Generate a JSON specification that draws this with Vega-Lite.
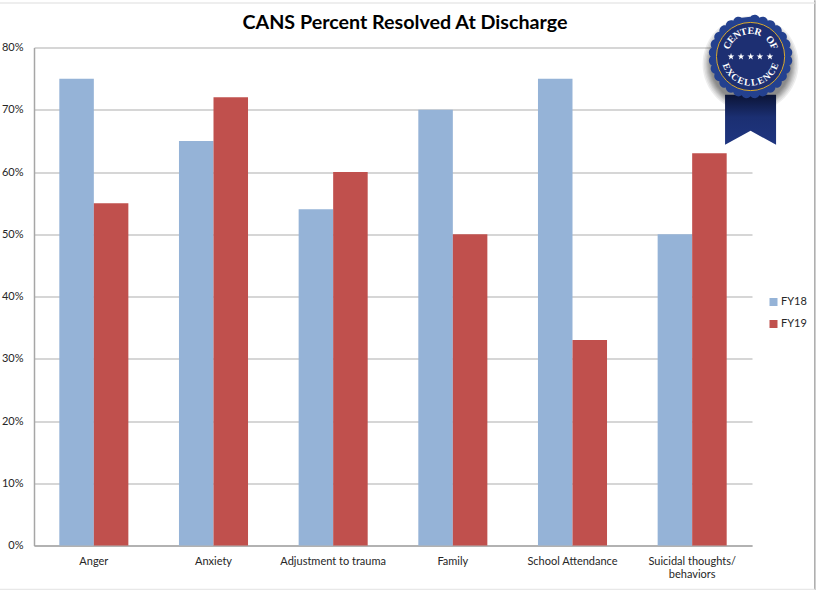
{
"$schema":"https://vega.github.io/schema/vega-lite/v6.json",
"autosize":"none",
"width":718,"height":498,
"padding":{"left":34,"top":47.5,"right":64,"bottom":44.5},
"background":"white",
"config":{"view":{"stroke":null},"font":"Lato"},
"title":{"text":"CANS Percent Resolved At Discharge","font":"Lato","fontSize":19.7,"fontWeight":"bold","color":"#000000","anchor":"middle","dx":12,"offset":0,"dy":33},
"layer":[
{"data":{"values":[{"x":108.75,"y":0.876,"y2":-0.0715}]},
"mark":{"type":"rule","color":"#a9a9a9","strokeWidth":1.5},
"encoding":{"x":{"field":"x","type":"quantitative","scale":{"domain":[0,100]},"axis":null},"y":{"field":"y","type":"quantitative"},"y2":{"field":"y2"}}},
{"data":{"values":[{"x":-4.8,"x2":108.75,"y":0.8715},{"x":-4.8,"x2":108.75,"y":-0.0707}]},
"mark":{"type":"rule","color":"#e8e8e8","strokeWidth":1.5},
"encoding":{"x":{"field":"x","type":"quantitative","scale":{"domain":[0,100]},"axis":null},"x2":{"field":"x2"},"y":{"field":"y","type":"quantitative"}}},
{"data":{"values":[
{"category":"Anger","series":"FY18","value":0.75},{"category":"Anger","series":"FY19","value":0.55},
{"category":"Anxiety","series":"FY18","value":0.65},{"category":"Anxiety","series":"FY19","value":0.72},
{"category":"Adjustment to trauma","series":"FY18","value":0.54},{"category":"Adjustment to trauma","series":"FY19","value":0.60},
{"category":"Family","series":"FY18","value":0.70},{"category":"Family","series":"FY19","value":0.50},
{"category":"School Attendance","series":"FY18","value":0.75},{"category":"School Attendance","series":"FY19","value":0.33},
{"category":"Suicidal thoughts/ behaviors","series":"FY18","value":0.50},{"category":"Suicidal thoughts/ behaviors","series":"FY19","value":0.63}
]},
"mark":{"type":"bar"},
"encoding":{
"x":{"field":"category","type":"nominal","sort":null,"scale":{"paddingInner":0.423,"paddingOuter":0.2115},
"axis":{"title":null,"labelAngle":0,"labelFontSize":11,"labelColor":"#262626","ticks":false,"labelPadding":10,"domainColor":"#a6a6a6","domainWidth":1.5,"labelAlign":"center","labelBaseline":"top","labelLimit":200,
"labelExpr":"datum.label == 'Suicidal thoughts/ behaviors' ? ['Suicidal thoughts/','behaviors'] : datum.label"}},
"xOffset":{"field":"series","type":"nominal","scale":{"paddingInner":0,"paddingOuter":0}},
"y":{"field":"value","type":"quantitative","scale":{"domain":[0,0.8]},
"axis":{"title":null,"format":".0%","values":[0,0.1,0.2,0.3,0.4,0.5,0.6,0.7,0.8],"labelFontSize":11,"labelColor":"#262626","ticks":false,"labelPadding":11,"domainColor":"#a6a6a6","domainWidth":1.5,"grid":true,"gridColor":"#adadad","gridWidth":1}},
"color":{"field":"series","type":"nominal","scale":{"domain":["FY18","FY19"],"range":["#95b3d7","#c0504d"]},
"legend":{"title":null,"orient":"none","legendX":734,"legendY":249,"symbolType":"square","symbolSize":64,"symbolStrokeWidth":0,"labelFontSize":11,"labelColor":"#262626","labelOffset":2,"rowPadding":10}}
}},
{"data":{"values":[{"x":99.8,"y":0.7735,"s":9216},{"x":99.8,"y":0.7735,"s":8649},{"x":99.8,"y":0.7735,"s":8100},{"x":99.8,"y":0.7735,"s":7744},{"x":99.8,"y":0.7735,"s":7396},{"x":99.8,"y":0.7735,"s":7056},{"x":99.8,"y":0.7735,"s":6724},{"x":99.8,"y":0.7735,"s":6400}]},
"mark":{"type":"point","shape":"circle","filled":true,"fill":"#000000","opacity":0.07,"stroke":null},
"encoding":{"x":{"field":"x","type":"quantitative","scale":{"domain":[0,100]},"axis":null},"y":{"field":"y","type":"quantitative"},"size":{"field":"s","type":"quantitative","scale":null,"legend":null}}},
{"data":{"values":[{"x":99.8,"y":0.70}]},
"mark":{"type":"point","filled":true,"stroke":null,"opacity":1,"size":10000,"shape":"M-.51,-.3 L.51,-.3 L.51,.7 L0,.42 L-.51,.7 Z",
"fill":{"x1":0,"y1":0,"x2":0,"y2":1,"gradient":"linear","stops":[{"offset":0,"color":"#0b1436"},{"offset":0.45,"color":"#1b2f72"},{"offset":1,"color":"#1f3580"}]}},
"encoding":{"x":{"field":"x","type":"quantitative","scale":{"domain":[0,100]},"axis":null},"y":{"field":"y","type":"quantitative"}}},
{"data":{"values":[{"x":99.8,"y":0.7855}]},
"mark":{"type":"point","filled":true,"stroke":null,"opacity":1,"fill":"#24418f","size":6724,
"shape":"M0,-.97 A.13,.13 0 0 1 .2158,-.9457 A.13,.13 0 0 1 .4209,-.874 A.13,.13 0 0 1 .6048,-.7583 A.13,.13 0 0 1 .7583,-.6048 A.13,.13 0 0 1 .874,-.4209 A.13,.13 0 0 1 .9457,-.2158 A.13,.13 0 0 1 .97,0 A.13,.13 0 0 1 .9457,.2158 A.13,.13 0 0 1 .874,.4209 A.13,.13 0 0 1 .7583,.6048 A.13,.13 0 0 1 .6048,.7583 A.13,.13 0 0 1 .4209,.874 A.13,.13 0 0 1 .2158,.9457 A.13,.13 0 0 1 0,.97 A.13,.13 0 0 1 -.2158,.9457 A.13,.13 0 0 1 -.4209,.874 A.13,.13 0 0 1 -.6048,.7583 A.13,.13 0 0 1 -.7583,.6048 A.13,.13 0 0 1 -.874,.4209 A.13,.13 0 0 1 -.9457,.2158 A.13,.13 0 0 1 -.97,0 A.13,.13 0 0 1 -.9457,-.2158 A.13,.13 0 0 1 -.874,-.4209 A.13,.13 0 0 1 -.7583,-.6048 A.13,.13 0 0 1 -.6048,-.7583 A.13,.13 0 0 1 -.4209,-.874 A.13,.13 0 0 1 -.2158,-.9457 Z"},
"encoding":{"x":{"field":"x","type":"quantitative","scale":{"domain":[0,100]},"axis":null},"y":{"field":"y","type":"quantitative"}}},
{"data":{"values":[{"x":99.8,"y":0.7855}]},
"mark":{"type":"point","shape":"circle","filled":true,"fill":"#1d2f72","stroke":"#d9a92e","strokeWidth":1,"opacity":1,"strokeOpacity":1,"size":4650},
"encoding":{"x":{"field":"x","type":"quantitative","scale":{"domain":[0,100]},"axis":null},"y":{"field":"y","type":"quantitative"}}},
{"data":{"values":[{"x":97.08,"y":0.7855},{"x":98.47,"y":0.7855},{"x":99.82,"y":0.7855},{"x":101.1,"y":0.7855},{"x":102.5,"y":0.7855}]},
"mark":{"type":"point","filled":true,"fill":"#ffffff","stroke":null,"opacity":1,"size":50,"shape":"M0,-1 L.235,-.309 L.951,-.309 L.38,.118 L.588,.809 L0,.382 L-.588,.809 L-.38,.118 L-.951,-.309 L-.235,-.309 Z"},
"encoding":{"x":{"field":"x","type":"quantitative","scale":{"domain":[0,100]},"axis":null},"y":{"field":"y","type":"quantitative"}}},
{"data":{"values":[{"t":"C","i":0,"x":99.8,"y":0.7855},{"t":"E","i":1,"x":99.8,"y":0.7855},{"t":"N","i":2,"x":99.8,"y":0.7855},{"t":"T","i":3,"x":99.8,"y":0.7855},{"t":"E","i":4,"x":99.8,"y":0.7855},{"t":"R","i":5,"x":99.8,"y":0.7855},{"t":" ","i":6,"x":99.8,"y":0.7855},{"t":"O","i":7,"x":99.8,"y":0.7855},{"t":"F","i":8,"x":99.8,"y":0.7855}]},
"mark":{"type":"text","font":"Liberation Serif","fontWeight":"bold","fontSize":10,"color":"#ffffff","align":"center","baseline":"middle"},
"encoding":{"x":{"field":"x","type":"quantitative","scale":{"domain":[0,100]},"axis":null},"y":{"field":"y","type":"quantitative"},"text":{"field":"t"},
"radius":{"value":25.5},
"theta":{"field":"i","type":"quantitative","scale":{"domain":[0,8],"range":[-1.12,1.15]}},
"angle":{"field":"i","type":"quantitative","scale":{"domain":[0,8],"range":[-64,66]},"legend":null}}},
{"data":{"values":[{"t":"E","i":0,"x":99.8,"y":0.7855},{"t":"X","i":1,"x":99.8,"y":0.7855},{"t":"C","i":2,"x":99.8,"y":0.7855},{"t":"E","i":3,"x":99.8,"y":0.7855},{"t":"L","i":4,"x":99.8,"y":0.7855},{"t":"L","i":5,"x":99.8,"y":0.7855},{"t":"E","i":6,"x":99.8,"y":0.7855},{"t":"N","i":7,"x":99.8,"y":0.7855},{"t":"C","i":8,"x":99.8,"y":0.7855},{"t":"E","i":9,"x":99.8,"y":0.7855}]},
"mark":{"type":"text","font":"Liberation Serif","fontWeight":"bold","fontSize":9.5,"color":"#ffffff","align":"center","baseline":"middle"},
"encoding":{"x":{"field":"x","type":"quantitative","scale":{"domain":[0,100]},"axis":null},"y":{"field":"y","type":"quantitative"},"text":{"field":"t"},
"radius":{"value":26},
"theta":{"field":"i","type":"quantitative","scale":{"domain":[0,9],"range":[4.32,1.95]}},
"angle":{"field":"i","type":"quantitative","scale":{"domain":[0,9],"range":[67,-68]},"legend":null}}}
],
"resolve":{"scale":{"x":"independent","theta":"independent","angle":"independent"}}
}
